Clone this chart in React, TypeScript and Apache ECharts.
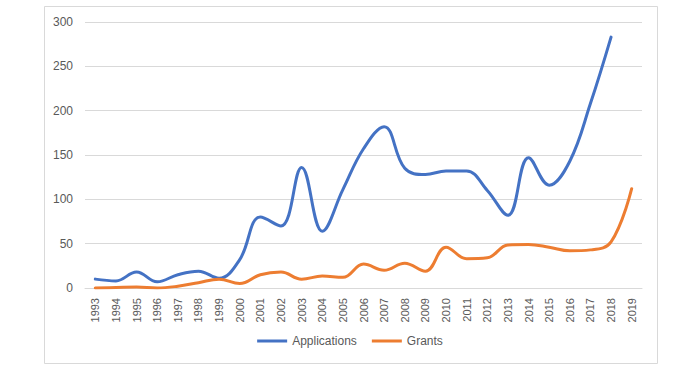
import React, { useEffect, useRef } from "react";
import * as echarts from "echarts";

const years = [
  "1993", "1994", "1995", "1996", "1997", "1998", "1999", "2000", "2001", "2002",
  "2003", "2004", "2005", "2006", "2007", "2008", "2009", "2010", "2011", "2012",
  "2013", "2014", "2015", "2016", "2017", "2018", "2019",
];

const applications: (number | null)[] = [
  10, 8, 18, 7, 15, 19, 11, 32, 80, 70,
  136, 64, 111, 157, 182, 135, 128, 132, 132, 110,
  82, 147, 116, 143, 208, 283, null,
];

const grants: number[] = [
  0, 0.5, 1, 0, 2, 6, 10, 5, 15, 18,
  10, 13.5, 12, 27, 20, 28, 19, 46, 33, 34,
  48.5, 49, 46, 42, 43, 52, 112,
];

const yTicks = { min: 0, max: 300, interval: 50 };

export default function App() {
  const ref = useRef<HTMLDivElement>(null);
  useEffect(() => {
    if (!ref.current) return;
    const chart = echarts.init(ref.current, null, { renderer: "svg" });
    const font = "'Liberation Sans', Arial, sans-serif";
    chart.setOption({
      animation: false,
      backgroundColor: "#ffffff",
      textStyle: { fontFamily: font },
      graphic: [
        {
          type: "rect",
          shape: { x: 44.5, y: 6.5, width: 613, height: 357 },
          style: { fill: "none", stroke: "#d9d9d9", lineWidth: 1 },
          silent: true,
          z: -1,
        },
      ],
      grid: { left: 85, right: 58, top: 22, bottom: 82 },
      xAxis: {
        type: "category",
        data: years,
        boundaryGap: true,
        axisLine: { lineStyle: { color: "#d9d9d9", width: 1 } },
        axisTick: { show: false },
        axisLabel: {
          rotate: 90,
          margin: 10,
          color: "#595959",
          fontSize: 11,
          fontFamily: font,
          interval: 0,
        },
      },
      yAxis: {
        type: "value",
        min: yTicks.min,
        max: yTicks.max,
        interval: yTicks.interval,
        axisLine: { show: false },
        axisTick: { show: false },
        axisLabel: { color: "#595959", fontSize: 12, margin: 12, fontFamily: font },
        splitLine: { lineStyle: { color: "#d9d9d9", width: 1 } },
      },
      legend: {
        bottom: 18,
        left: "center",
        icon: "rect",
        itemWidth: 30,
        itemHeight: 3,
        itemGap: 15,
        textStyle: { color: "#595959", fontSize: 12, fontFamily: font },
        data: ["Applications", "Grants"],
      },
      series: [
        {
          name: "Applications",
          type: "line",
          data: applications,
          smooth: 0.4,
          showSymbol: false,
          symbol: "none",
          lineStyle: { color: "#4472C4", width: 3, cap: "round" },
          itemStyle: { color: "#4472C4" },
        },
        {
          name: "Grants",
          type: "line",
          data: grants,
          smooth: 0.4,
          showSymbol: false,
          symbol: "none",
          lineStyle: { color: "#ED7D31", width: 3, cap: "round" },
          itemStyle: { color: "#ED7D31" },
        },
      ],
    });
    return () => chart.dispose();
  }, []);
  return (
    <div
      ref={ref}
      style={{ position: "fixed", left: 0, top: 0, width: 700, height: 370 }}
    />
  );
}
